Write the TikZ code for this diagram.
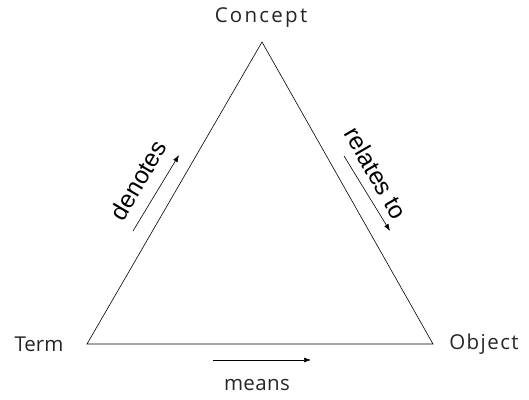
\documentclass[tikz,border=0pt]{standalone}
\usepackage{fontspec}
\setmainfont{Open Sans}
\newfontfamily\arialfont{Liberation Sans}
\newfontfamily\wideA[LetterSpace=11]{Open Sans}
\newfontfamily\wideB[LetterSpace=7]{Open Sans}
\newfontfamily\wideC[LetterSpace=2]{Open Sans}
\usetikzlibrary{arrows.meta}
\tikzset{
  corner/.style={font=\fontsize{20.5}{24}\selectfont, text=black!85, inner sep=0pt},
  edgelabel/.style={font=\arialfont\fontsize{24.5}{28}\selectfont, inner sep=0pt},
  side/.style={line width=0.6pt},
  flow/.style={line width=0.6pt, -{Latex[length=7pt,width=5pt]}}
}
\begin{document}
\begin{tikzpicture}[x=1pt,y=-1pt]
  \useasboundingbox (0,0) rectangle (529,399);
  % triangle corners
  \coordinate (top) at (262,42);
  \coordinate (bl) at (87,344);
  \coordinate (br) at (433,344);
  \draw[side, line join=miter] (top) -- (bl) -- (br) -- cycle;
  % corner labels
  \node[corner, font=\wideA\fontsize{20.5}{24}\selectfont] (concept) at (261,18) {Concept};
  \node[corner] (term) at (39,344) {Term};
  \node[corner, font=\wideB\fontsize{20.5}{24}\selectfont] (object) at (484,344) {Object};
  \node[corner, font=\wideC\fontsize{20.5}{24}\selectfont] (means) at (257,385) {means};
  % arrows along the sides
  \coordinate (d1) at (133,231);
  \coordinate (d2) at (179,155);
  \draw[flow] (d1) -- (d2);
  \coordinate (r1) at (344,156);
  \coordinate (r2) at (390,231);
  \draw[flow] (r1) -- (r2);
  \coordinate (m1) at (213,360);
  \coordinate (m2) at (311,360);
  \draw[flow] (m1) -- (m2);
  % edge labels
  \node[edgelabel, rotate=59.7] (denotes) at (138,180) {denotes};
  \node[edgelabel, rotate=-59.7] (relates) at (376,173) {relates to};
\end{tikzpicture}
\end{document}
